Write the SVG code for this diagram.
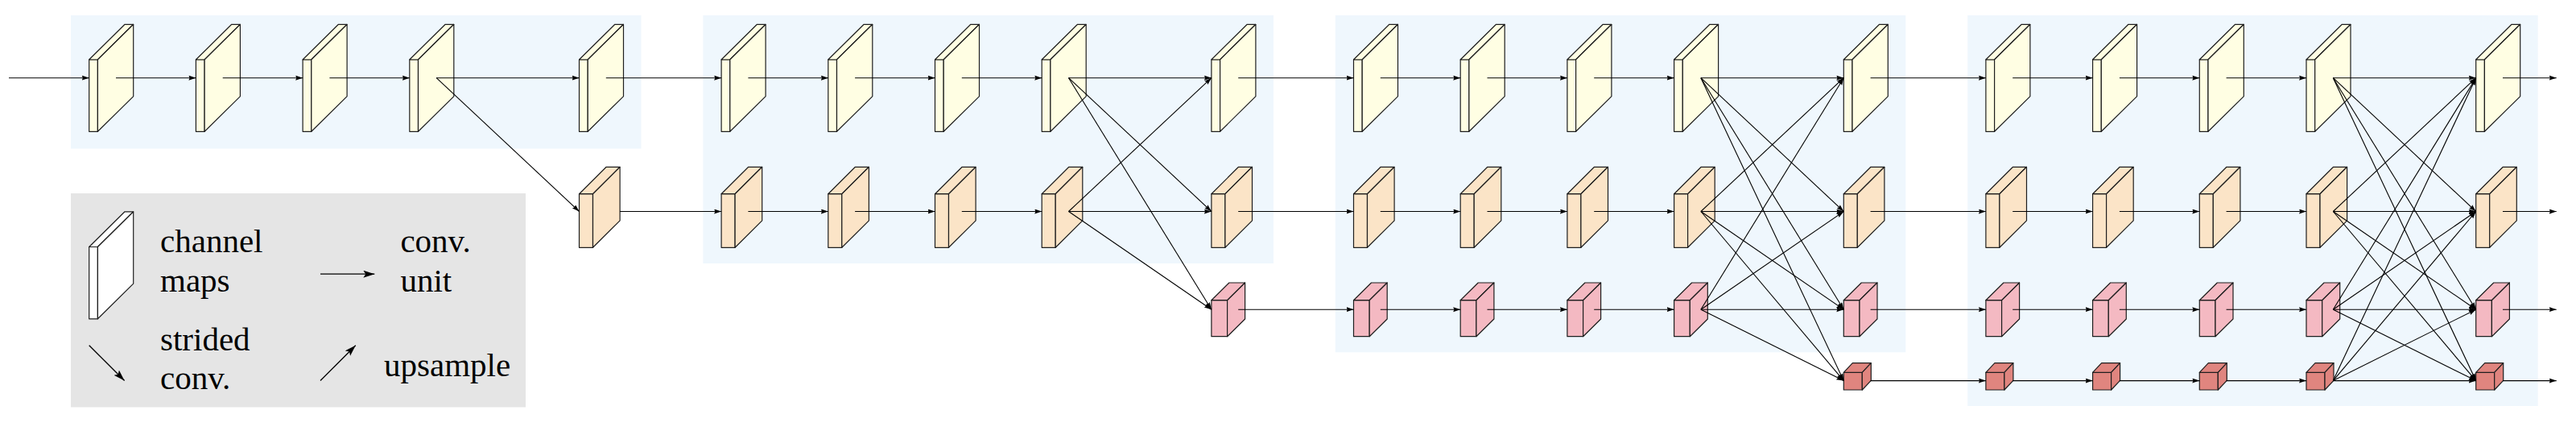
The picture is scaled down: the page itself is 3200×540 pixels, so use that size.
<svg xmlns="http://www.w3.org/2000/svg" width="3200" height="540" viewBox="0 0 3200 540">
<style>
.panel{fill:#eff7fd}
.legbg{fill:#e5e5e5}
.cub{stroke:#1e1e1e;stroke-width:1.2;stroke-linejoin:round}
.yel{fill:#fffee3}
.ora{fill:#fbe4c7}
.pnk{fill:#f4b9c2}
.red{fill:#e0857f}
.wht{fill:#ffffff}
.c line{stroke:#000;stroke-width:1.1;fill:none;marker-end:url(#ah)}
.lgarrow{stroke:#000;stroke-width:1.3;fill:none;marker-end:url(#ahL)}
.lt{font-family:"Liberation Serif","DejaVu Serif",serif;font-size:41px;fill:#000}
</style>
<defs>
<marker id="ah" markerUnits="userSpaceOnUse" markerWidth="12" markerHeight="8" refX="9" refY="3" orient="auto">
<path d="M0,0 L9,3 L0,6 L1.2,3 Z" fill="#000"/>
</marker>
<marker id="ahL" markerUnits="userSpaceOnUse" markerWidth="16" markerHeight="12" refX="14" refY="4.5" orient="auto">
<path d="M0,0 L14,4.5 L0,9 L3,4.5 Z" fill="#000"/>
</marker>
<g id="Y" class="cub"><rect x="0" y="0" width="10.7" height="89.3"/><polygon points="0,0 44.3,-43.7 55,-43.7 10.7,0"/><polygon points="10.7,0 55,-43.7 55,45.6 10.7,89.3"/></g>
<g id="O" class="cub"><rect x="0" y="0" width="17" height="66.6"/><polygon points="0,0 33.6,-33.4 50.6,-33.4 17,0"/><polygon points="17,0 50.6,-33.4 50.6,33.2 17,66.6"/></g>
<g id="P" class="cub"><rect x="0" y="0" width="19.7" height="45"/><polygon points="0,0 22,-21.7 41.7,-21.7 19.7,0"/><polygon points="19.7,0 41.7,-21.7 41.7,23.3 19.7,45"/></g>
<g id="R" class="cub"><rect x="0" y="0" width="23" height="21.7"/><polygon points="0,0 11,-11.6 34,-11.6 23,0"/><polygon points="23,0 34,-11.6 34,10.1 23,21.7"/></g>
</defs>
<rect width="3200" height="540" fill="#ffffff"/>
<g id="panels">
<rect class="panel" x="88" y="19" width="708.5" height="165.5"/>
<rect class="panel" x="873.4" y="19" width="708.5" height="308"/>
<rect class="panel" x="1658.8" y="19" width="708.5" height="418.3"/>
<rect class="panel" x="2444.2" y="19" width="708.5" height="485"/>
</g>
<g id="legend">
<rect class="legbg" x="88" y="240" width="565" height="265.5"/>
<g id="legend-cuboid" class="wht"><use href="#Y" x="110.7" y="306.5"/></g>
<text class="lt" x="199" y="312.7">channel</text>
<text class="lt" x="199" y="362.3">maps</text>
<text class="lt" x="497.4" y="312.7">conv.</text>
<text class="lt" x="497.4" y="362.3">unit</text>
<text class="lt" x="199" y="434.6">strided</text>
<text class="lt" x="199" y="482.8">conv.</text>
<text class="lt" x="477" y="467.3">upsample</text>
<line class="lgarrow" x1="398" y1="340.2" x2="465.3" y2="340.2"/>
<line class="lgarrow" x1="110.7" y1="428.7" x2="154.6" y2="472.5"/>
<line class="lgarrow" x1="398" y1="472.5" x2="441.8" y2="428.7"/>
</g>
<g id="nodes">
<g id="s0-r0-c0" class="yel"><use href="#Y" x="110.7" y="74"/></g>
<g id="s0-r0-c1" class="yel"><use href="#Y" x="243.4" y="74"/></g>
<g id="s0-r0-c2" class="yel"><use href="#Y" x="376.1" y="74"/></g>
<g id="s0-r0-c3" class="yel"><use href="#Y" x="508.8" y="74"/></g>
<g id="s0-r0-c4" class="yel"><use href="#Y" x="719.5" y="74"/></g>
<g id="s0-r1-c4" class="ora"><use href="#O" x="719.5" y="240.7"/></g>

<g id="s1-r0-c0" class="yel"><use href="#Y" x="896.1" y="74"/></g>
<g id="s1-r0-c1" class="yel"><use href="#Y" x="1028.8" y="74"/></g>
<g id="s1-r0-c2" class="yel"><use href="#Y" x="1161.5" y="74"/></g>
<g id="s1-r0-c3" class="yel"><use href="#Y" x="1294.2" y="74"/></g>
<g id="s1-r0-c4" class="yel"><use href="#Y" x="1504.9" y="74"/></g>
<g id="s1-r1-c0" class="ora"><use href="#O" x="896.1" y="240.7"/></g>
<g id="s1-r1-c1" class="ora"><use href="#O" x="1028.8" y="240.7"/></g>
<g id="s1-r1-c2" class="ora"><use href="#O" x="1161.5" y="240.7"/></g>
<g id="s1-r1-c3" class="ora"><use href="#O" x="1294.2" y="240.7"/></g>
<g id="s1-r1-c4" class="ora"><use href="#O" x="1504.9" y="240.7"/></g>
<g id="s1-r2-c4" class="pnk"><use href="#P" x="1504.9" y="372.7"/></g>

<g id="s2-r0-c0" class="yel"><use href="#Y" x="1681.5" y="74"/></g>
<g id="s2-r0-c1" class="yel"><use href="#Y" x="1814.2" y="74"/></g>
<g id="s2-r0-c2" class="yel"><use href="#Y" x="1946.9" y="74"/></g>
<g id="s2-r0-c3" class="yel"><use href="#Y" x="2079.6" y="74"/></g>
<g id="s2-r0-c4" class="yel"><use href="#Y" x="2290.3" y="74"/></g>
<g id="s2-r1-c0" class="ora"><use href="#O" x="1681.5" y="240.7"/></g>
<g id="s2-r1-c1" class="ora"><use href="#O" x="1814.2" y="240.7"/></g>
<g id="s2-r1-c2" class="ora"><use href="#O" x="1946.9" y="240.7"/></g>
<g id="s2-r1-c3" class="ora"><use href="#O" x="2079.6" y="240.7"/></g>
<g id="s2-r1-c4" class="ora"><use href="#O" x="2290.3" y="240.7"/></g>
<g id="s2-r2-c0" class="pnk"><use href="#P" x="1681.5" y="372.7"/></g>
<g id="s2-r2-c1" class="pnk"><use href="#P" x="1814.2" y="372.7"/></g>
<g id="s2-r2-c2" class="pnk"><use href="#P" x="1946.9" y="372.7"/></g>
<g id="s2-r2-c3" class="pnk"><use href="#P" x="2079.6" y="372.7"/></g>
<g id="s2-r2-c4" class="pnk"><use href="#P" x="2290.3" y="372.7"/></g>
<g id="s2-r3-c4" class="red"><use href="#R" x="2290.3" y="462.3"/></g>

<g id="s3-r0-c0" class="yel"><use href="#Y" x="2466.9" y="74"/></g>
<g id="s3-r0-c1" class="yel"><use href="#Y" x="2599.6" y="74"/></g>
<g id="s3-r0-c2" class="yel"><use href="#Y" x="2732.3" y="74"/></g>
<g id="s3-r0-c3" class="yel"><use href="#Y" x="2865" y="74"/></g>
<g id="s3-r0-c4" class="yel"><use href="#Y" x="3075.7" y="74"/></g>
<g id="s3-r1-c0" class="ora"><use href="#O" x="2466.9" y="240.7"/></g>
<g id="s3-r1-c1" class="ora"><use href="#O" x="2599.6" y="240.7"/></g>
<g id="s3-r1-c2" class="ora"><use href="#O" x="2732.3" y="240.7"/></g>
<g id="s3-r1-c3" class="ora"><use href="#O" x="2865" y="240.7"/></g>
<g id="s3-r1-c4" class="ora"><use href="#O" x="3075.7" y="240.7"/></g>
<g id="s3-r2-c0" class="pnk"><use href="#P" x="2466.9" y="372.7"/></g>
<g id="s3-r2-c1" class="pnk"><use href="#P" x="2599.6" y="372.7"/></g>
<g id="s3-r2-c2" class="pnk"><use href="#P" x="2732.3" y="372.7"/></g>
<g id="s3-r2-c3" class="pnk"><use href="#P" x="2865" y="372.7"/></g>
<g id="s3-r2-c4" class="pnk"><use href="#P" x="3075.7" y="372.7"/></g>
<g id="s3-r3-c0" class="red"><use href="#R" x="2466.9" y="462.3"/></g>
<g id="s3-r3-c1" class="red"><use href="#R" x="2599.6" y="462.3"/></g>
<g id="s3-r3-c2" class="red"><use href="#R" x="2732.3" y="462.3"/></g>
<g id="s3-r3-c3" class="red"><use href="#R" x="2865" y="462.3"/></g>
<g id="s3-r3-c4" class="red"><use href="#R" x="3075.7" y="462.3"/></g>
</g>
<g id="connectors" class="c">
<line x1="11" y1="96.7" x2="110.7" y2="96.7"/>
<line x1="144" y1="96.7" x2="243.4" y2="96.7"/>
<line x1="276.7" y1="96.7" x2="376.1" y2="96.7"/>
<line x1="409.4" y1="96.7" x2="508.8" y2="96.7"/>
<line x1="542.1" y1="96.7" x2="719.5" y2="96.7"/>
<line x1="542.1" y1="96.7" x2="719.5" y2="262.5"/>
<line x1="752.8" y1="96.7" x2="896.1" y2="96.7"/>
<line x1="770" y1="262.5" x2="896.1" y2="262.5"/>

<line x1="929.4" y1="96.7" x2="1028.8" y2="96.7"/>
<line x1="1062.1" y1="96.7" x2="1161.5" y2="96.7"/>
<line x1="1194.8" y1="96.7" x2="1294.2" y2="96.7"/>
<line x1="929.4" y1="262.5" x2="1028.8" y2="262.5"/>
<line x1="1062.1" y1="262.5" x2="1161.5" y2="262.5"/>
<line x1="1194.8" y1="262.5" x2="1294.2" y2="262.5"/>
<line x1="1327.5" y1="96.7" x2="1504.9" y2="96.7"/>
<line x1="1327.5" y1="96.7" x2="1504.9" y2="262.5"/>
<line x1="1327.5" y1="96.7" x2="1504.9" y2="384.2"/>
<line x1="1327.5" y1="262.5" x2="1504.9" y2="96.7"/>
<line x1="1327.5" y1="262.5" x2="1504.9" y2="262.5"/>
<line x1="1327.5" y1="262.5" x2="1504.9" y2="384.2"/>
<line x1="1538.2" y1="96.7" x2="1681.5" y2="96.7"/>
<line x1="1538.2" y1="262.5" x2="1681.5" y2="262.5"/>
<line x1="1538.2" y1="384.2" x2="1681.5" y2="384.2"/>

<line x1="1714.8" y1="96.7" x2="1814.2" y2="96.7"/>
<line x1="1847.5" y1="96.7" x2="1946.9" y2="96.7"/>
<line x1="1980.2" y1="96.7" x2="2079.6" y2="96.7"/>
<line x1="1714.8" y1="262.5" x2="1814.2" y2="262.5"/>
<line x1="1847.5" y1="262.5" x2="1946.9" y2="262.5"/>
<line x1="1980.2" y1="262.5" x2="2079.6" y2="262.5"/>
<line x1="1714.8" y1="384.2" x2="1814.2" y2="384.2"/>
<line x1="1847.5" y1="384.2" x2="1946.9" y2="384.2"/>
<line x1="1980.2" y1="384.2" x2="2079.6" y2="384.2"/>
<line x1="2112.9" y1="96.7" x2="2290.3" y2="96.7"/>
<line x1="2112.9" y1="96.7" x2="2290.3" y2="262.5"/>
<line x1="2112.9" y1="96.7" x2="2290.3" y2="384.2"/>
<line x1="2112.9" y1="96.7" x2="2290.3" y2="472.6"/>
<line x1="2112.9" y1="262.5" x2="2290.3" y2="96.7"/>
<line x1="2112.9" y1="262.5" x2="2290.3" y2="262.5"/>
<line x1="2112.9" y1="262.5" x2="2290.3" y2="384.2"/>
<line x1="2112.9" y1="262.5" x2="2290.3" y2="472.6"/>
<line x1="2112.9" y1="384.2" x2="2290.3" y2="96.7"/>
<line x1="2112.9" y1="384.2" x2="2290.3" y2="262.5"/>
<line x1="2112.9" y1="384.2" x2="2290.3" y2="384.2"/>
<line x1="2112.9" y1="384.2" x2="2290.3" y2="472.6"/>
<line x1="2323.6" y1="96.7" x2="2466.9" y2="96.7"/>
<line x1="2323.6" y1="262.5" x2="2466.9" y2="262.5"/>
<line x1="2323.6" y1="384.2" x2="2466.9" y2="384.2"/>
<line x1="2323.6" y1="472.6" x2="2466.9" y2="472.6"/>

<line x1="2500.2" y1="96.7" x2="2599.6" y2="96.7"/>
<line x1="2632.9" y1="96.7" x2="2732.3" y2="96.7"/>
<line x1="2765.6" y1="96.7" x2="2865" y2="96.7"/>
<line x1="2500.2" y1="262.5" x2="2599.6" y2="262.5"/>
<line x1="2632.9" y1="262.5" x2="2732.3" y2="262.5"/>
<line x1="2765.6" y1="262.5" x2="2865" y2="262.5"/>
<line x1="2500.2" y1="384.2" x2="2599.6" y2="384.2"/>
<line x1="2632.9" y1="384.2" x2="2732.3" y2="384.2"/>
<line x1="2765.6" y1="384.2" x2="2865" y2="384.2"/>
<line x1="2500.2" y1="472.6" x2="2599.6" y2="472.6"/>
<line x1="2632.9" y1="472.6" x2="2732.3" y2="472.6"/>
<line x1="2765.6" y1="472.6" x2="2865" y2="472.6"/>
<line x1="2898.3" y1="96.7" x2="3075.7" y2="96.7"/>
<line x1="2898.3" y1="96.7" x2="3075.7" y2="262.5"/>
<line x1="2898.3" y1="96.7" x2="3075.7" y2="384.2"/>
<line x1="2898.3" y1="96.7" x2="3075.7" y2="472.6"/>
<line x1="2898.3" y1="262.5" x2="3075.7" y2="96.7"/>
<line x1="2898.3" y1="262.5" x2="3075.7" y2="262.5"/>
<line x1="2898.3" y1="262.5" x2="3075.7" y2="384.2"/>
<line x1="2898.3" y1="262.5" x2="3075.7" y2="472.6"/>
<line x1="2898.3" y1="384.2" x2="3075.7" y2="96.7"/>
<line x1="2898.3" y1="384.2" x2="3075.7" y2="262.5"/>
<line x1="2898.3" y1="384.2" x2="3075.7" y2="384.2"/>
<line x1="2898.3" y1="384.2" x2="3075.7" y2="472.6"/>
<line x1="2898.3" y1="472.6" x2="3075.7" y2="96.7"/>
<line x1="2898.3" y1="472.6" x2="3075.7" y2="262.5"/>
<line x1="2898.3" y1="472.6" x2="3075.7" y2="384.2"/>
<line x1="2898.3" y1="472.6" x2="3075.7" y2="472.6"/>
<line x1="3109" y1="96.7" x2="3175.7" y2="96.7"/>
<line x1="3109" y1="262.5" x2="3175.7" y2="262.5"/>
<line x1="3109" y1="384.2" x2="3175.7" y2="384.2"/>
<line x1="3109" y1="472.6" x2="3175.7" y2="472.6"/>
</g>
</svg>
